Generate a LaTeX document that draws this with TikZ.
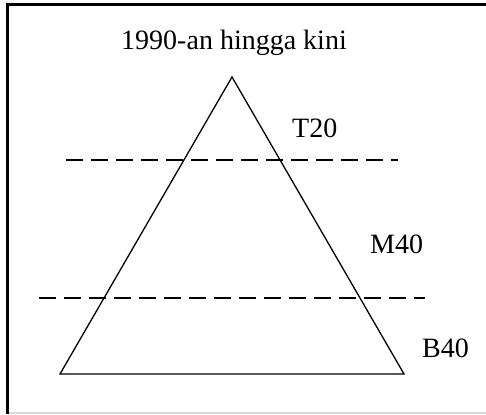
\documentclass[tikz,border=0pt]{standalone}
\usepackage{fontspec}
\setmainfont{Liberation Serif}
\begin{document}
\begin{tikzpicture}[x=1pt,y=-1pt,
  lbl/.style={inner sep=0pt,font=\fontsize{28}{30}\selectfont,anchor=base west},
  tri/.style={line width=1.3pt,line join=miter},
  level/.style={line width=1.3pt,dash pattern=on 17pt off 8pt},
  frame/.style={line width=2.2pt}]
\useasboundingbox (0,0) rectangle (486,414);
\fill[white] (0,0) rectangle (486,414);
% frame
\coordinate (fTR) at (486,4.5);
\coordinate (fTL) at (7.5,4.5);
\coordinate (fBL) at (7.5,414);
\draw[frame] (fTR) -- (fTL) -- (fBL);
\coordinate (gL) at (9,413);
\coordinate (gR) at (486,413);
\draw[line width=1.5pt,black!15] (gL) -- (gR);
% title
\node[inner sep=0pt,font=\fontsize{28}{30}\selectfont,anchor=base] (title) at (234,50) {1990-an hingga kini};
% triangle
\coordinate (apex) at (232,77);
\coordinate (bl) at (60,374);
\coordinate (br) at (404,374);
\draw[tri] (apex) -- (br) -- (bl) -- cycle;
% dashed levels
\coordinate (d1a) at (66,160);
\coordinate (d1b) at (398,160);
\draw[level] (d1a) -- (d1b);
\coordinate (d2a) at (39,298);
\coordinate (d2b) at (425,298);
\draw[level] (d2a) -- (d2b);
% labels
\node[lbl] (t20) at (292,138) {T20};
\node[lbl] (m40) at (370,253) {M40};
\node[lbl] (b40) at (422,357) {B40};
\end{tikzpicture}
\end{document}
